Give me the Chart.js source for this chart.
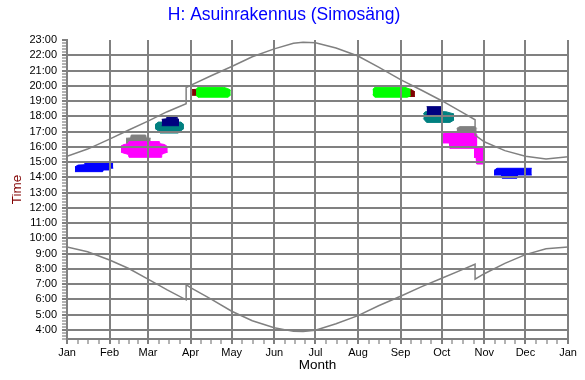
<!DOCTYPE html>
<html>
<head>
<meta charset="utf-8">
<script src="https://cdn.jsdelivr.net/npm/chart.js@4.4.1/dist/chart.umd.min.js"></script>
<style>
html,body{margin:0;padding:0;background:#ffffff;}
#wrap{width:585px;height:380px;}
</style>
</head>
<body>
<div id="wrap"><canvas id="c" width="585" height="380"></canvas></div>
<script>
// ---- axis categories / tick labels ----
const monthLabels = ['Jan','Feb','Mar','Apr','May','Jun','Jul','Aug','Sep','Oct','Nov','Dec','Jan'];
const monthStartDays = [0,31,59,90,120,151,181,212,243,273,304,334,365];
const hourValues = [4,5,6,7,8,9,10,11,12,13,14,15,16,17,18,19,20,21,22,23];
const hourLabels = ['4:00','5:00','6:00','7:00','8:00','9:00','10:00','11:00','12:00','13:00','14:00','15:00','16:00','17:00','18:00','19:00','20:00','21:00','22:00','23:00'];

// ---- sunrise / sunset curves (day of year, hour) ----
const sunDays      = [0, 15, 31, 45, 59, 73, 86.8, 86.8, 90, 105, 120, 135, 151, 165, 172, 181, 196, 212, 227, 243, 258, 273, 288, 297.3, 297.3, 304, 319, 334, 349, 365];
const sunsetTimes  = [15.38, 15.85, 16.5, 17.1, 17.68, 18.3, 18.82, 19.88, 20.03, 20.66, 21.26, 21.9, 22.42, 22.78, 22.86, 22.82, 22.47, 21.95, 21.22, 20.4, 19.72, 19.02, 18.25, 17.77, 16.77, 16.33, 15.75, 15.38, 15.2, 15.35];
const sunriseTimes = [9.43, 9.12, 8.58, 8.02, 7.32, 6.62, 5.97, 6.96, 6.77, 6.02, 5.22, 4.6, 4.14, 3.9, 3.89, 3.97, 4.4, 4.93, 5.58, 6.2, 6.82, 7.38, 7.95, 8.3, 7.32, 7.68, 8.36, 8.93, 9.32, 9.43];

// ---- observation areas: [day of year, hour] outlines (top edge, bottom edge) ----
const blueJanTop       = [[5.8,14.68],[8,14.8],[12.5,14.82],[13.5,14.99],[33.7,14.99]];
const blueJanBottom    = [[5.8,14.37],[26,14.37],[26.5,14.48],[31,14.48],[31.5,14.6],[33.7,14.6]];
const grayFebTop       = [[43,16.56],[46.3,16.58],[46.8,16.77],[57.3,16.77],[57.8,16.58],[61,16.56]];
const grayFebBottom    = [[43,16.2],[61,16.2]];
const magentaFebTop    = [[39.3,16.05],[41.5,16.15],[44.7,16.2],[45.2,16.34],[67.3,16.34],[67.8,16.2],[71,16.15],[73.4,16.0]];
const magentaFebBottom = [[39.3,15.65],[41.5,15.58],[44.7,15.5],[45.2,15.31],[68.5,15.31],[69,15.5],[71,15.58],[73.4,15.65]];
const tealMarTop       = [[64.1,17.45],[66.5,17.62],[83,17.62],[85.2,17.45]];
const tealMarBottom    = [[64.1,17.2],[66.5,17.05],[67.8,16.9],[80.9,16.9],[83,17.05],[85.2,17.2]];
const navyMarTop       = [[69,17.8],[72.3,17.83],[72.8,17.97],[79.6,17.97],[80.1,17.83],[81.6,17.8]];
const navyMarBottom    = [[69,17.38],[81.6,17.38]];
const redAprTop        = [[91.1,19.75],[97,19.78]];
const redAprBottom     = [[91.1,19.38],[97,19.36]];
const greenAprTop      = [[94,19.75],[95.4,19.9],[113.9,19.9],[117,19.82],[119.3,19.7]];
const greenAprBottom   = [[94,19.38],[95.4,19.25],[117.3,19.25],[119.3,19.4]];
const redSepTop        = [[247.5,19.77],[250.5,19.77],[253.5,19.6]];
const redSepBottom     = [[247.5,19.3],[253.5,19.3]];
const greenSepTop      = [[222.7,19.75],[224.4,19.9],[246.3,19.9],[250.4,19.75]];
const greenSepBottom   = [[222.7,19.4],[224.4,19.25],[248,19.25],[250.4,19.35]];
const tealOctTop       = [[259.6,18.15],[261,18.3],[276,18.3],[282,18.15]];
const tealOctBottom    = [[259.6,17.85],[262,17.6],[279,17.6],[282,17.76]];
const navyOctTop       = [[262,18.63],[273,18.63]];
const navyOctBottom    = [[262,18.12],[273,18.12]];
const grayOctTop       = [[283.9,17.2],[286,17.32],[297.3,17.32],[298.5,17.2]];
const grayOctBottom    = [[283.9,16.89],[298.5,16.89]];
const magentaOctTop    = [[273,16.77],[275.4,16.93],[296,16.93],[299,16.77]];
const magentaOctBottom = [[273,16.25],[278.5,16.25],[279,15.9],[299,15.9]];
const magentaNovTop    = [[296.5,16.0],[304.5,16.0]];
const magentaNovBottom = [[296.5,15.3],[298,15.3],[298.5,14.87],[304.5,14.87]];
const blueDecTop       = [[311.1,14.45],[313.3,14.59],[338.6,14.59]];
const blueDecBottom    = [[311.1,14.15],[316.5,14.15],[317,13.94],[327.8,13.94],[328.3,14.15],[338.6,14.15]];

const FONT = "'Liberation Sans', Arial, sans-serif";
const GRID = '#808080';

const areas = [
  {top: grayFebTop,    bottom: grayFebBottom,    color: '#808080', order: 20},
  {top: magentaFebTop, bottom: magentaFebBottom, color: '#ff00ff', order: 19},
  {top: tealMarTop,    bottom: tealMarBottom,    color: '#008080', order: 18},
  {top: navyMarTop,    bottom: navyMarBottom,    color: '#000080', order: 17},
  {top: redAprTop,     bottom: redAprBottom,     color: '#800000', order: 16},
  {top: greenAprTop,   bottom: greenAprBottom,   color: '#00ff00', order: 15},
  {top: redSepTop,     bottom: redSepBottom,     color: '#800000', order: 16},
  {top: greenSepTop,   bottom: greenSepBottom,   color: '#00ff00', order: 15},
  {top: tealOctTop,    bottom: tealOctBottom,    color: '#008080', order: 18},
  {top: navyOctTop,    bottom: navyOctBottom,    color: '#000080', order: 17},
  {top: grayOctTop,    bottom: grayOctBottom,    color: '#808080', order: 20},
  {top: magentaOctTop, bottom: magentaOctBottom, color: '#ff00ff', order: 19},
  {top: magentaNovTop, bottom: magentaNovBottom, color: '#ff00ff', order: 19},
  {top: blueJanTop,    bottom: blueJanBottom,    color: '#0000ff', order: 14},
  {top: blueDecTop,    bottom: blueDecBottom,    color: '#0000ff', order: 14}
];

const toPts = a => a.map(p => ({x: p[0], y: p[1]}));
const datasets = [
  {data: sunDays.map((d, i) => ({x: d, y: sunsetTimes[i]})), borderColor: GRID, borderWidth: 1.5, pointRadius: 0, fill: false, order: 1},
  {data: sunDays.map((d, i) => ({x: d, y: sunriseTimes[i]})), borderColor: GRID, borderWidth: 1.5, pointRadius: 0, fill: false, order: 1}
];
areas.forEach(a => {
  datasets.push({data: toPts(a.top), borderColor: a.color, backgroundColor: a.color, borderWidth: 1, pointRadius: 0, fill: false, order: a.order});
  datasets.push({data: toPts(a.bottom), borderColor: a.color, backgroundColor: a.color, borderWidth: 1, pointRadius: 0, fill: '-1', order: a.order});
});

// tick positions: month starts + quarter-month minor ticks; hours + 12-minute minor ticks
const xTickValues = [];
for (let m = 0; m < 12; m++) {
  const s = monthStartDays[m], L = monthStartDays[m + 1] - s;
  for (let q = 0; q < 4; q++) xTickValues.push(s + q * L / 4);
}
xTickValues.push(365);
const yTickValues = [];
for (let k = 17; k <= 115; k++) yTickValues.push(k / 5);

const isMonth = v => monthStartDays.indexOf(v) >= 0;
const isHour = v => Math.abs(v - Math.round(v)) < 1e-9 && v >= 4;

new Chart(document.getElementById('c'), {
  type: 'line',
  data: {datasets},
  options: {
    responsive: false,
    animation: false,
    events: [],
    layout: {padding: {left: 0, right: 17, top: 0, bottom: 0}},
    elements: {line: {tension: 0}},
    plugins: {
      legend: {display: false},
      tooltip: {enabled: false},
      title: {
        display: true,
        text: 'H: Asuinrakennus (Simosäng)',
        color: '#0000ff',
        font: {family: FONT, size: 17.5, weight: 'normal'},
        padding: {top: 4.5, bottom: 14.5}
      }
    },
    scales: {
      x: {
        type: 'linear', min: 0, max: 365,
        afterBuildTicks: s => { s.ticks = xTickValues.map(v => ({value: v})); },
        afterFit: s => { s.height = 41; },
        ticks: {
          autoSkip: false, maxRotation: 0, minRotation: 0, padding: 2.5,
          color: '#000000', font: {family: FONT, size: 11},
          callback: v => { const i = monthStartDays.indexOf(v); return i >= 0 ? monthLabels[i] : ''; }
        },
        grid: {
          z: 1,
          color: c => (c.tick && isMonth(c.tick.value)) ? GRID : 'rgba(0,0,0,0)',
          lineWidth: 2,
          tickColor: GRID,
          tickLength: 5,
          tickWidth: c => (c.tick && isMonth(c.tick.value)) ? 2 : 1.2
        },
        border: {z: 1, color: GRID, width: 2},
        title: {display: true, text: 'Month', color: '#000000', font: {family: FONT, size: 13.5}, padding: {top: 0, bottom: 7}}
      },
      y: {
        type: 'linear', min: 3.4, max: 23,
        afterBuildTicks: s => { s.ticks = yTickValues.map(v => ({value: v})); },
        afterFit: s => { s.width = 67; },
        ticks: {
          autoSkip: false, padding: 5,
          color: '#000000', font: {family: FONT, size: 11},
          callback: v => { if (!isHour(v)) return ''; const i = hourValues.indexOf(Math.round(v)); return i >= 0 ? hourLabels[i] : ''; }
        },
        grid: {
          z: 1,
          color: c => (c.tick && isHour(c.tick.value) && c.tick.value < 23) ? GRID : 'rgba(0,0,0,0)',
          lineWidth: 2,
          tickColor: GRID,
          tickLength: 5,
          tickWidth: c => (c.tick && isHour(c.tick.value)) ? 2 : 1.2
        },
        border: {z: 1, color: GRID, width: 2},
        title: {display: true, text: 'Time', color: '#800000', font: {family: FONT, size: 13.5}, padding: {top: 9, bottom: 0}}
      }
    }
  }
});
</script>
</body>
</html>
